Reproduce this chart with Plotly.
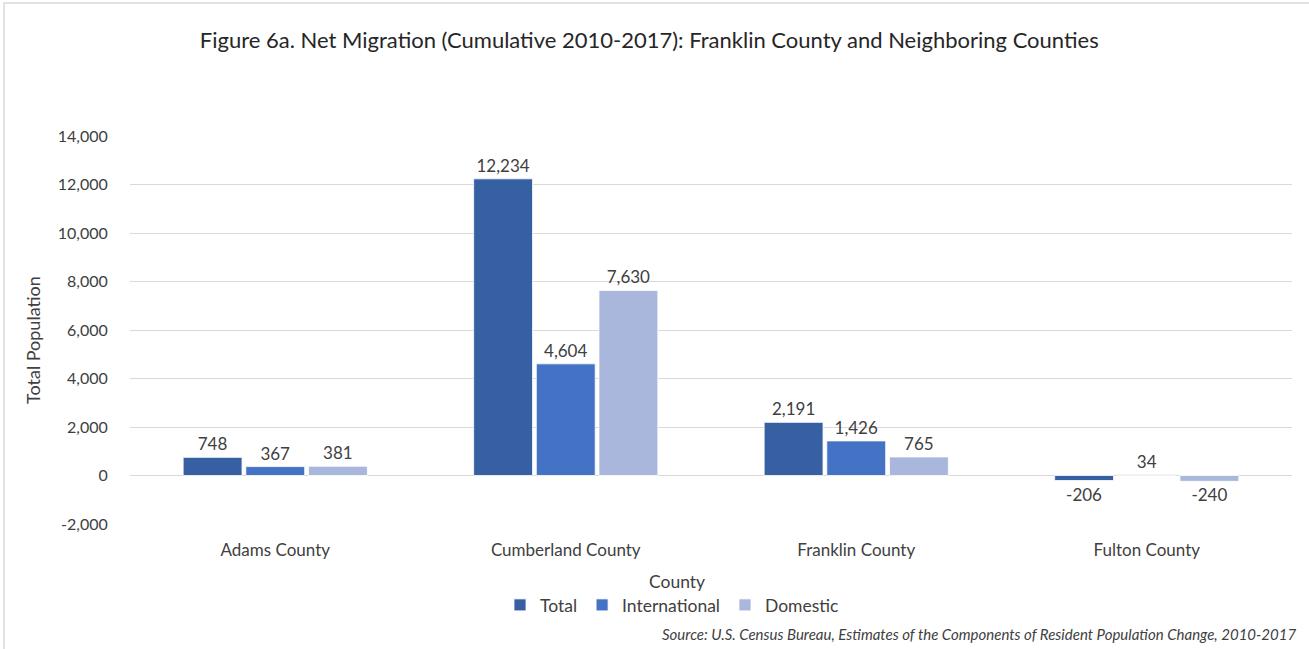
import plotly.graph_objects as go

counties = ["Adams County", "Cumberland County", "Franklin County", "Fulton County"]
total = [748, 12234, 2191, -206]
international = [367, 4604, 1426, 34]
domestic = [381, 7630, 765, -240]
series_names = ["Total", "International", "Domestic"]
series_colors = ["#3660A1", "#4472C4", "#A9B7DC"]
y_ticks = [-2000, 0, 2000, 4000, 6000, 8000, 10000, 12000, 14000]
y_tick_labels = [f"{v:,}" for v in y_ticks]

W, H = 1309, 649
L, R, T, B = 130, 17, 136, 125
pw, ph = W - L - R, H - T - B

def px_x(p):
    return (p - L) / pw

def px_y(p):
    return (H - B - p) / ph

FONT = "Lato"
TXT = "#404040"
fig = go.Figure()
for name, vals, col in zip(series_names, [total, international, domestic], series_colors):
    fig.add_trace(go.Bar(
        x=counties, y=vals, name=name,
        marker=dict(color=col, line=dict(color="white", width=0.8)),
        text=[f"{v:,}" for v in vals], textposition="outside",
        textfont=dict(family=FONT, size=17, color=TXT),
        cliponaxis=False,
    ))

fig.update_layout(
    width=W, height=H,
    margin=dict(l=L, r=R, t=T, b=B),
    paper_bgcolor="white", plot_bgcolor="white",
    barmode="group", bargap=0.353, bargroupgap=0.06,
    font=dict(family=FONT, color="#595959"),
    title=dict(text="Figure 6a. Net Migration (Cumulative 2010-2017): Franklin County and Neighboring Counties",
               x=0.496, xanchor="center", y=1 - 40 / H, yanchor="middle",
               font=dict(family=FONT, size=22, color="#262626")),
    showlegend=True,
    legend=dict(orientation="h", x=px_x(672), xanchor="center", y=px_y(605), yanchor="middle",
                font=dict(family=FONT, size=17.5, color=TXT), traceorder="normal",
                itemwidth=30, tracegroupgap=0),
    xaxis=dict(showgrid=False, showline=False, ticks="outside", ticklen=11, tickcolor="rgba(0,0,0,0)",
               tickfont=dict(family=FONT, size=17, color=TXT)),
    yaxis=dict(range=[-2000, 14000], tickvals=y_ticks, ticktext=y_tick_labels, showgrid=True, gridcolor="#D9D9D9",
               gridwidth=1, zeroline=True, zerolinecolor="#D9D9D9", zerolinewidth=1, showline=False,
               ticks="outside", ticklen=18, tickcolor="rgba(0,0,0,0)",
               tickfont=dict(family=FONT, size=16, color=TXT)),
    annotations=[
        dict(text="Total Population", xref="paper", yref="paper", x=px_x(33), y=px_y(340), textangle=-90,
             showarrow=False, xanchor="center", yanchor="middle", font=dict(family=FONT, size=18, color=TXT)),
        dict(text="County", xref="paper", yref="paper", x=px_x(677), y=px_y(581), showarrow=False,
             xanchor="center", yanchor="middle", font=dict(family=FONT, size=17.5, color=TXT)),
        dict(text="<i>Source: U.S. Census Bureau, Estimates of the Components of Resident Population Change, 2010-2017</i>",
             xref="paper", yref="paper", x=px_x(1298), y=px_y(634), showarrow=False,
             xanchor="right", yanchor="middle", font=dict(family=FONT, size=15, color=TXT)),
    ],
    shapes=[dict(type="rect", xref="paper", yref="paper", x0=px_x(4), x1=px_x(1315), y0=px_y(655), y1=px_y(3),
                 line=dict(color="#D9D9D9", width=1.5), fillcolor="rgba(0,0,0,0)", layer="below")],
)

fig.write_html("out.html", config={"displayModeBar": False},
               post_script="document.body.style.margin='0px';document.body.style.overflow='hidden';")
